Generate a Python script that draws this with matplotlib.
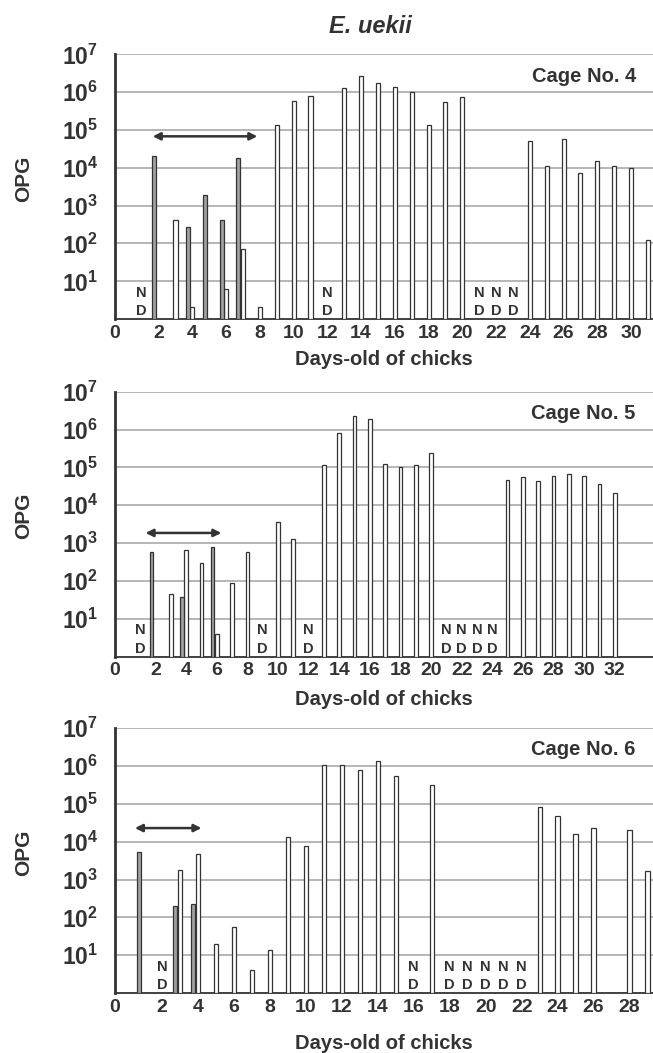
import numpy as np
import matplotlib
matplotlib.use('Agg')
import matplotlib.pyplot as plt

plt.rcParams['font.family'] = ['Liberation Sans', 'DejaVu Sans']
plt.rcParams['font.weight'] = 'bold'
plt.rcParams['mathtext.fontset'] = 'custom'
plt.rcParams['mathtext.rm'] = 'Liberation Sans:bold'
plt.rcParams['mathtext.bf'] = 'Liberation Sans:bold'

TXT = '#333333'

# ---- data (OPG) ----
# Cage No. 4
c4_white_days = [3, 4, 6, 7, 8, 9, 10, 11, 13, 14, 15, 16, 17, 18, 19, 20,
                 24, 25, 26, 27, 28, 29, 30, 31]
c4_white_opg = [410, 2.1, 6.2, 71, 2.1, 1.35e5, 5.9e5, 7.8e5, 1.26e6, 2.6e6,
                1.78e6, 1.35e6, 1.03e6, 1.35e5, 5.4e5, 7.6e5,
                5.0e4, 1.15e4, 5.8e4, 7.3e3, 1.55e4, 1.15e4, 9.8e3, 123]
c4_gray_days = [2, 4, 5, 6, 7]
c4_gray_opg = [2.0e4, 280, 1870, 410, 1.78e4]
c4_nd_days = [1, 12, 21, 22, 23]
c4_arrow_days = (1.65, 7.85)
c4_arrow_opg = 6.8e4
c4_ticks = list(range(0, 31, 2))

# Cage No. 5
c5_white_days = [3, 4, 5, 6, 7, 8, 10, 11, 13, 14, 15, 16, 17, 18, 19, 20,
                 25, 26, 27, 28, 29, 30, 31, 32]
c5_white_opg = [44, 670, 295, 4.0, 89, 570, 3600, 1300, 1.14e5, 7.9e5,
                2.3e6, 1.86e6, 1.24e5, 1.0e5, 1.14e5, 2.4e5,
                4.6e4, 5.6e4, 4.3e4, 6.0e4, 6.7e4, 6.0e4, 3.7e4, 2.1e4]
c5_gray_days = [2, 4, 6]
c5_gray_opg = [590, 37, 790]
c5_nd_days = [1, 9, 12, 21, 22, 23, 24]
c5_arrow_days = (1.35, 6.3)
c5_arrow_opg = 1850
c5_ticks = list(range(0, 33, 2))

# Cage No. 6
c6_white_days = [3, 4, 5, 6, 7, 8, 9, 10, 11, 12, 13, 14, 15, 17,
                 23, 24, 25, 26, 28, 29]
c6_white_opg = [1800, 4800, 20, 55, 4.0, 14, 1.33e4, 7.6e3, 1.1e6, 1.1e6,
                7.8e5, 1.4e6, 5.4e5, 3.2e5, 8.3e4, 4.8e4, 1.6e4, 2.3e4,
                2.1e4, 1.7e3]
c6_gray_days = [1, 3, 4]
c6_gray_opg = [5500, 200, 233]
c6_nd_days = [2, 16, 18, 19, 20, 21, 22]
c6_arrow_days = (0.5, 4.2)
c6_arrow_opg = 2.3e4
c6_ticks = list(range(0, 29, 2))

cages = [
    ('Cage No. 4', c4_white_days, c4_white_opg, c4_gray_days, c4_gray_opg,
     c4_nd_days, c4_arrow_days, c4_arrow_opg, c4_ticks, (-0.59, 31.3), -0.115),
    ('Cage No. 5', c5_white_days, c5_white_opg, c5_gray_days, c5_gray_opg,
     c5_nd_days, c5_arrow_days, c5_arrow_opg, c5_ticks, (-0.65, 34.5), -0.127),
    ('Cage No. 6', c6_white_days, c6_white_opg, c6_gray_days, c6_gray_opg,
     c6_nd_days, c6_arrow_days, c6_arrow_opg, c6_ticks, (-0.61, 29.3), -0.153),
]

fig = plt.figure(figsize=(6.53, 10.53), dpi=100)
tops = [0.9484, 0.628, 0.3084]
h = 0.2515
bw = 0.24

for (name, wd, wv, gd, gv, nd, adays, aopg, ticks, xl, xlab_y), top in zip(cages, tops):
    ax = fig.add_axes([0.176, top - h, 0.824, h])
    ax.set_yscale('log')
    ax.set_ylim(1, 1e7)
    ax.set_xlim(*xl)

    ax.bar(wd, np.array(wv) - 1, bottom=1, width=bw, color='white',
           edgecolor=TXT, linewidth=0.9, zorder=3)
    ax.bar(np.array(gd) - 0.27, np.array(gv) - 1, bottom=1, width=bw,
           color='#a0a0a0', edgecolor=TXT, linewidth=0.9, zorder=3)

    for d in nd:
        ax.text(d, 2.8, 'N\nD', ha='center', va='center', fontsize=10.5,
                color=TXT, linespacing=1.4, fontweight='bold')

    ax.annotate('', xy=(adays[1], aopg), xytext=(adays[0], aopg),
                arrowprops=dict(arrowstyle='<|-|>', color=TXT, lw=1.8,
                                mutation_scale=11, shrinkA=0, shrinkB=0))

    ax.text(0.968, 0.918, name, transform=ax.transAxes, ha='right',
            va='center', fontsize=14.5, color=TXT, fontweight='bold')

    yt = [10 ** k for k in range(1, 8)]
    ax.set_yticks(yt)
    ax.set_yticklabels([r'$\mathbf{10^{%d}}$' % k for k in range(1, 8)],
                       fontsize=16.5, color=TXT)
    ax.yaxis.set_minor_locator(matplotlib.ticker.NullLocator())
    pos = [xl[0]] + ticks[1:]
    ax.set_xticks(pos)
    ax.set_xticklabels([str(t) for t in ticks], fontsize=14, color=TXT,
                       fontweight='bold')
    ax.tick_params(length=0, pad=4)
    ax.tick_params(axis='y', pad=12)

    ax.yaxis.grid(True, color='#b0b0b0', linewidth=1.3, zorder=0)
    ax.set_axisbelow(True)
    for s in ['top', 'right']:
        ax.spines[s].set_visible(False)
    ax.spines['left'].set_color(TXT)
    ax.spines['left'].set_linewidth(2)
    ax.spines['bottom'].set_color(TXT)
    ax.spines['bottom'].set_linewidth(1.3)

    ax.set_ylabel('OPG', fontsize=15, color=TXT, fontweight='bold')
    ax.yaxis.set_label_coords(-0.152, 0.53)
    ax.set_xlabel('Days-old of chicks', fontsize=14.5, color=TXT,
                  fontweight='bold')
    ax.xaxis.set_label_coords(0.5, xlab_y)

fig.text(0.567, 0.975, 'E. uekii', ha='center', va='center', fontsize=17,
         style='italic', fontweight='bold', color=TXT)

fig.savefig('out.png', dpi=100)
